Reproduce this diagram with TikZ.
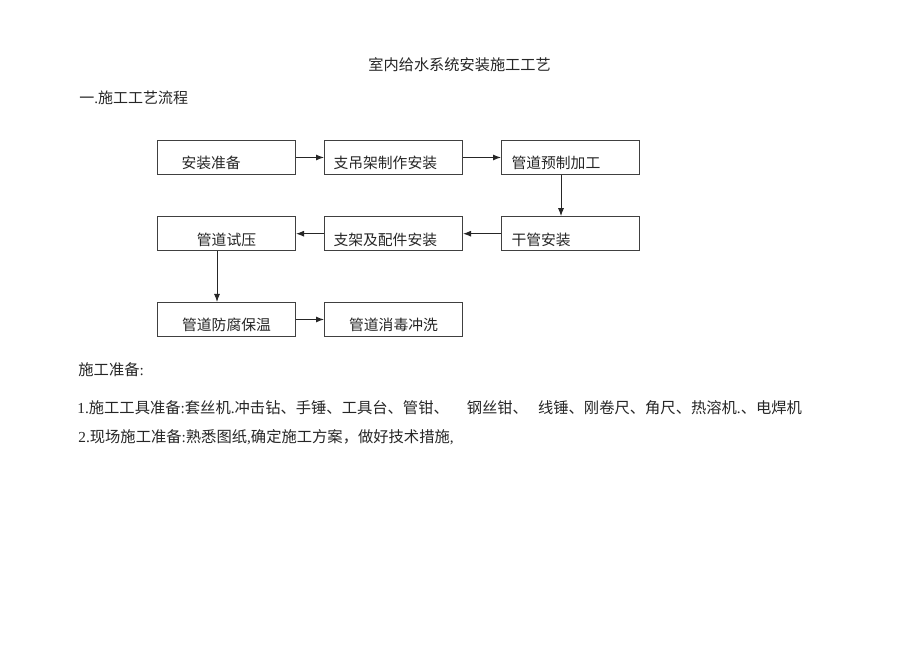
\documentclass[tikz,border=0pt]{standalone}
\usepackage{fontspec}
\setmainfont{Liberation Serif}
\newfontfamily\cjk{Noto Sans CJK SC}
\usetikzlibrary{arrows.meta}
\newcommand\zh[1]{{\cjk #1}}
\begin{document}
\begin{tikzpicture}[x=0.5pt,y=-0.5pt,
  txt/.style={inner sep=0pt,anchor=west,text=black!85,font=\fontsize{7.65pt}{9pt}\selectfont},
  flowbox/.style={draw=black!75,line width=0.5pt,minimum height=17pt,text=black!85,
     font=\fontsize{7.4pt}{9pt}\selectfont,inner ysep=0pt,text height=12.5pt,text depth=1pt},
  leftbox/.style={flowbox,align=left,inner xsep=#1,text width=69pt-2*#1},
  midbox/.style={flowbox,minimum width=69pt,inner xsep=0pt},
  arr/.style={draw=black!85,line width=0.5pt,-{Latex[length=4pt,width=3pt]}}]
\useasboundingbox (0,0) rectangle (920,651);
\fill[white] (0,0) rectangle (920,651);

\node[txt,font=\fontsize{7.6pt}{10pt}\selectfont] (title) at (368,65) {\zh{室内给水系统安装施工工艺}};
\node[txt,font=\fontsize{7.5pt}{9pt}\selectfont] (head) at (79,98) {\zh{一}.\zh{施工工艺流程}};

\node[leftbox=12pt]  (b1) at (226.5,157.5) {\zh{安装准备}};
\node[leftbox=4.5pt] (b2) at (393.5,157.5) {\zh{支吊架制作安装}};
\node[leftbox=5pt]   (b3) at (570.5,157.5) {\zh{管道预制加工}};
\node[midbox]        (b4) at (226.5,233.7) {\zh{管道试压}};
\node[leftbox=4.5pt] (b5) at (393.5,233.7) {\zh{支架及配件安装}};
\node[leftbox=5pt]   (b6) at (570.5,233.7) {\zh{干管安装}};
\node[midbox]        (b7) at (226.5,319.5) {\zh{管道防腐保温}};
\node[midbox]        (b8) at (393.5,319.5) {\zh{管道消毒冲洗}};

\draw[arr] (b1) -- (b2);
\draw[arr] (b2) -- (b3);
\draw[arr] ([xshift=-4.75pt]b3.south) -- ([xshift=-4.75pt]b6.north);
\draw[arr] (b6) -- (b5);
\draw[arr] (b5) -- (b4);
\draw[arr] ([xshift=-4.75pt]b4.south) -- ([xshift=-4.75pt]b7.north);
\draw[arr] (b7) -- (b8);

\node[txt] (prep) at (78,370) {\zh{施工准备}:};
\node[txt] (line1) at (77,408) {1.\zh{施工工具准备}:\zh{套丝机}.\zh{冲击钻、手锤、工具台、管钳、}\hspace{9pt}\zh{钢丝钳、}\hspace{5pt}\zh{线锤、刚卷尺、角尺、热溶机}.\zh{、电焊机}};
\node[txt] (line2) at (78,437) {2.\zh{现场施工准备}:\zh{熟悉图纸},\zh{确定施工方案，做好技术措施},};
\end{tikzpicture}
\end{document}
